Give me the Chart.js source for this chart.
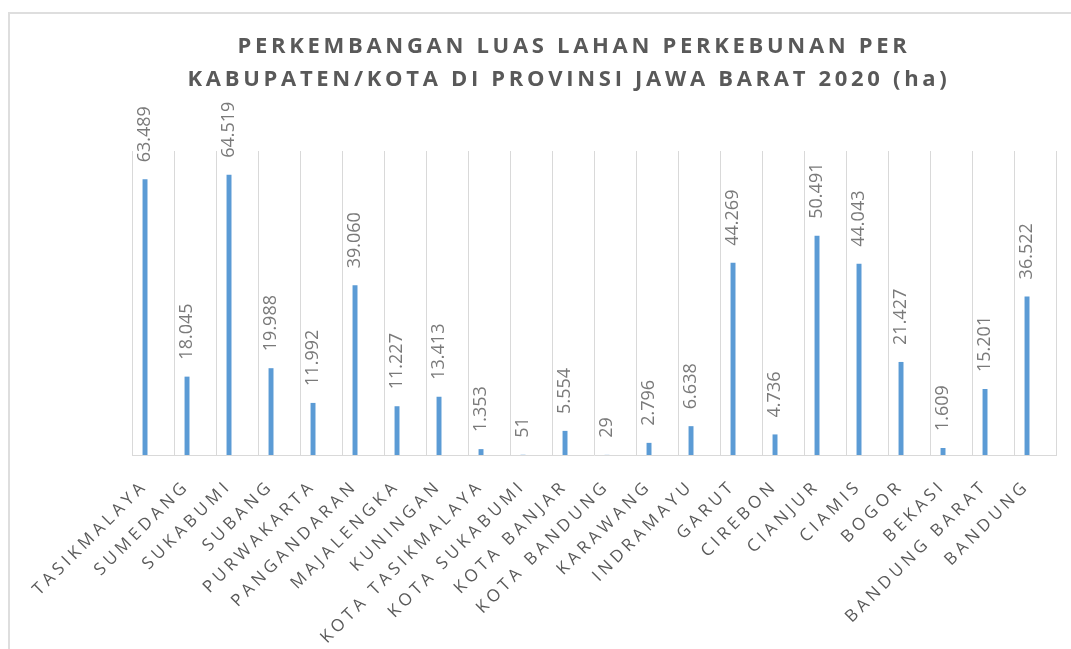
<!DOCTYPE html>
<html>
<head>
<meta charset="utf-8">
<script src="https://cdn.jsdelivr.net/npm/chart.js@4"></script>
<style>
  html, body { margin: 0; padding: 0; background: #fff; overflow: hidden; }
  .frame { position: absolute; left: 8px; top: 12px; width: 2000px; height: 2000px;
           border-left: 2px solid #dedede; border-top: 2px solid #dedede; }
  #chart { position: absolute; left: 0; top: 0; }
</style>
</head>
<body>
<div class="frame"></div>
<canvas id="chart" width="1071" height="649"></canvas>
<script>
/* === Luas lahan perkebunan per kabupaten/kota, Jawa Barat 2020 === */

const titleLines = [
    'PERKEMBANGAN LUAS LAHAN PERKEBUNAN PER',
    'KABUPATEN/KOTA DI PROVINSI JAWA BARAT 2020 (ha)'
];

const regions = [
    'TASIKMALAYA', 'SUMEDANG', 'SUKABUMI', 'SUBANG', 'PURWAKARTA', 'PANGANDARAN',
    'MAJALENGKA', 'KUNINGAN', 'KOTA TASIKMALAYA', 'KOTA SUKABUMI', 'KOTA BANJAR',
    'KOTA BANDUNG', 'KARAWANG', 'INDRAMAYU', 'GARUT', 'CIREBON', 'CIANJUR',
    'CIAMIS', 'BOGOR', 'BEKASI', 'BANDUNG BARAT', 'BANDUNG'
];

// luas lahan (ha)
const luasLahan = [
    63489, 18045, 64519, 19988, 11992, 39060,
    11227, 13413, 1353, 51, 5554,
    29, 2796, 6638, 44269, 4736, 50491,
    44043, 21427, 1609, 15201, 36522
];

const yMin = 0;
const yMax = 70000;

const BAR = '#5b9bd5';
const GRID = '#d9d9d9';
const TEXT = '#595959';
const VALUE_TEXT = '#7a7a7a';

// 63489 -> "63.489"
const fmtHa = v => String(v).replace(/\B(?=(\d{3})+(?!\d))/g, '.');

// ── Letter spacing for axis labels (canvas state gets reset, so set it on each pass) ──
const spacingPlugin = {
    id: 'spacing',
    beforeUpdate(chart) { chart.ctx.letterSpacing = '4px'; },
    beforeDraw(chart) { chart.ctx.letterSpacing = '4px'; }
};

// ── Title, drawn by hand so it can sit off the plot centre ──
const titlePlugin = {
    id: 'bigTitle',
    afterDraw(chart) {
        const ctx = chart.ctx;
        ctx.save();
        ctx.letterSpacing = '3.7px';
        ctx.font = 'bold 22px "Open Sans"';
        ctx.fillStyle = TEXT;
        ctx.textAlign = 'center';
        ctx.textBaseline = 'alphabetic';
        ctx.fillText(titleLines[0], 574, 53);
        ctx.fillText(titleLines[1], 569, 86);
        ctx.restore();
    }
};

// ── Vertical value labels above each bar ──
const valueLabels = {
    id: 'valueLabels',
    afterDatasetsDraw(chart) {
        const ctx = chart.ctx;
        const meta = chart.getDatasetMeta(0);
        ctx.save();
        ctx.letterSpacing = '0px';
        ctx.font = '18px "Open Sans"';
        ctx.fillStyle = VALUE_TEXT;
        ctx.textAlign = 'left';
        ctx.textBaseline = 'middle';
        meta.data.forEach((bar, i) => {
            ctx.save();
            ctx.translate(bar.x, bar.y - 17);
            ctx.rotate(-Math.PI / 2);
            ctx.fillText(fmtHa(luasLahan[i]), 0, 0);
            ctx.restore();
        });
        ctx.restore();
    }
};

new Chart(document.getElementById('chart'), {
    type: 'bar',
    data: {
        labels: regions,
        datasets: [
            { label: 'Luas lahan (ha)', data: luasLahan, backgroundColor: BAR, borderWidth: 0 },
            // empty second slot, keeps the bar left of the category centre like the original
            { label: '', data: [], backgroundColor: 'transparent' }
        ]
    },
    options: {
        responsive: false,
        animation: false,
        categoryPercentage: 0.76,
        barPercentage: 0.31,
        layout: { padding: { left: 132, right: 15, top: 151, bottom: 0 } },
        scales: {
            x: {
                grid: { color: GRID, lineWidth: 1, offset: true, drawTicks: false },
                border: { color: GRID, width: 1 },
                ticks: {
                    color: TEXT, font: { family: 'Open Sans', size: 17 },
                    autoSkip: false, minRotation: 45, maxRotation: 45,
                    padding: 21, labelOffset: -8
                },
                afterFit: s => { s.height = 194; }
            },
            y: { display: false, min: yMin, max: yMax }
        },
        plugins: {
            legend: { display: false },
            title: { display: false },
            tooltip: { enabled: false }
        }
    },
    plugins: [spacingPlugin, valueLabels, titlePlugin]
});
</script>
</body>
</html>
